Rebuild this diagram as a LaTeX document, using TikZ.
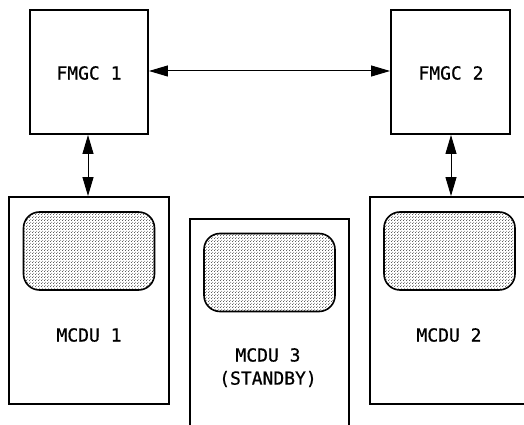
\documentclass[tikz,border=0pt]{standalone}
\usepackage{fontspec}
\newfontfamily\lblfont[FakeBold=0.6]{DejaVu Sans Mono}
\usetikzlibrary{arrows.meta,patterns.meta}
\tikzdeclarepattern{name=finedots, type=uncolored,
  bottom left={(0pt,0pt)}, top right={(2.6pt,2.6pt)}, tile size={(2.6pt,2.6pt)},
  code={\pgfpathcircle{\pgfpoint{0.65pt}{0.65pt}}{0.5pt}\pgfpathcircle{\pgfpoint{1.95pt}{1.95pt}}{0.5pt}\pgfusepath{fill}}}
\begin{document}
\begin{tikzpicture}[x=1pt,y=1pt,
  unit/.style={draw, line width=1.9pt, rectangle, inner sep=0pt},
  screen/.style={draw, line width=1.6pt, rounded corners=16pt, pattern={finedots}, pattern color=black!85, inner sep=0pt, minimum width=131pt, minimum height=78pt},
  lbl/.style={font=\fontsize{18}{22}\selectfont\lblfont, inner sep=0pt},
  link/.style={line width=1pt, {Triangle[length=19pt,width=11pt]}-{Triangle[length=19pt,width=11pt]}}
]
\useasboundingbox (0,0) rectangle (524,425);
% FMGC boxes
\node[unit, minimum width=118pt, minimum height=124pt] (f1) at (89,353) {};
\node[unit, minimum width=119pt, minimum height=124pt] (f2) at (450.5,353) {};
\node[lbl] (f1t) at (89,352) {FMGC 1};
\node[lbl] (f2t) at (451,352) {FMGC 2};
% MCDU boxes
\node[unit, minimum width=160pt, minimum height=207pt] (m1) at (89,124.5) {};
\node[unit, minimum width=160pt, minimum height=207pt] (m2) at (450,124.5) {};
\node[unit, minimum width=159pt, minimum height=230pt] (m3) at (269.5,91) {};
% screens
\node[screen] (s1) at (89,174) {};
\node[screen] (s2) at (449.5,174) {};
\node[screen] (s3) at (269.5,152.5) {};
% labels
\node[lbl] (m1t) at (89,90) {MCDU 1};
\node[lbl] (m2t) at (449,90) {MCDU 2};
\node[lbl] (m3t) at (268,70) {MCDU 3};
\node[lbl] (m3s) at (268,46) {(STANDBY)};
% connectors
\draw[link] (f1.east |- 0,354) -- (f2.west |- 0,354);
\draw[link] (f1.south -| 88,0) -- (m1.north -| 88,0);
\draw[link] (f2.south -| 451,0) -- (m2.north -| 451,0);
\end{tikzpicture}
\end{document}
